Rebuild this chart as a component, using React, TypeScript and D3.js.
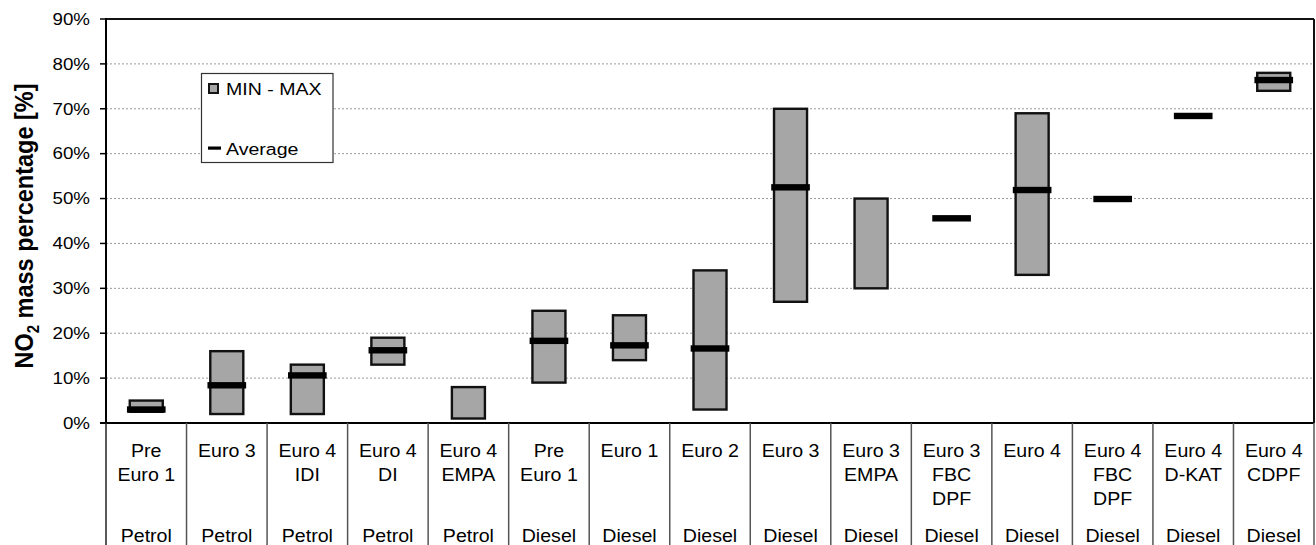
import React from "react";
import * as d3 from "d3";

const stages: string[] = [
  "Pre\nEuro 1", "Euro 3", "Euro 4\nIDI", "Euro 4\nDI", "Euro 4\nEMPA",
  "Pre\nEuro 1", "Euro 1", "Euro 2", "Euro 3", "Euro 3\nEMPA",
  "Euro 3\nFBC\nDPF", "Euro 4", "Euro 4\nFBC\nDPF", "Euro 4\nD-KAT", "Euro 4\nCDPF",
];
const fuels: string[] = [
  "Petrol", "Petrol", "Petrol", "Petrol", "Petrol",
  "Diesel", "Diesel", "Diesel", "Diesel", "Diesel",
  "Diesel", "Diesel", "Diesel", "Diesel", "Diesel",
];
const minValues: (number | null)[] = [2.5, 2, 2, 13, 1, 9, 14, 3, 27, 30, null, 33, null, null, 74];
const maxValues: (number | null)[] = [5, 16, 13, 19, 8, 25, 24, 34, 70, 50, null, 69, null, null, 78];
const avgValues: (number | null)[] = [3, 8.4, 10.6, 16.2, null, 18.3, 17.3, 16.6, 52.5, null, 45.6, 51.9, 49.9, 68.4, 76.4];
const yTicks: number[] = [0, 10, 20, 30, 40, 50, 60, 70, 80, 90];

const FONT = "'Liberation Sans', Arial, sans-serif";

export default function App() {
  const W = 1316, H = 545;
  const left = 106, right = 1314, top = 19, bottom = 423;
  const idx = stages.map((_, i) => String(i));
  const x = d3.scaleBand<string>().domain(idx).range([left, right]).padding(0);
  const y = d3.scaleLinear().domain([0, 90]).range([bottom, top]);
  const bw = x.bandwidth();
  const barW = bw * 0.41;
  const avgW = bw * 0.48;

  const tsx = 1.15;
  const csx = 1.12;

  return (
    <svg width={W} height={H} style={{ position: "absolute", left: 0, top: 0, background: "#fff" }} fontFamily={FONT}>
      {yTicks.filter((t) => t > 0 && t < 90).map((t) => (
        <line key={"g" + t} x1={left} x2={right} y1={y(t)} y2={y(t)} stroke="#9a9a9a" strokeWidth={1} strokeDasharray="2,2" />
      ))}
      {yTicks.map((t) => (
        <g key={"t" + t}>
          <line x1={left - 6} x2={left} y1={y(t)} y2={y(t)} stroke="#000" strokeWidth={1.5} />
          <text transform={`translate(90,${y(t) + 5.8}) scale(${tsx},1)`} fontSize={16.3} textAnchor="end" fill="#000">
            {t + "%"}
          </text>
        </g>
      ))}
      {idx.map((k, i) => {
        const mn = minValues[i], mx = maxValues[i];
        if (mn == null || mx == null) return null;
        const cx = (x(k) as number) + bw / 2;
        return (
          <rect key={"b" + i} x={cx - barW / 2} y={y(mx)} width={barW} height={y(mn) - y(mx)}
            fill="#a6a6a6" stroke="#111" strokeWidth={2.4} />
        );
      })}
      {idx.map((k, i) => {
        const a = avgValues[i];
        if (a == null) return null;
        const cx = (x(k) as number) + bw / 2;
        return <rect key={"a" + i} x={cx - avgW / 2} y={y(a) - 3.2} width={avgW} height={6.4} fill="#000" />;
      })}
      <line x1={left} x2={right} y1={top} y2={top} stroke="#111" strokeWidth={2} />
      <line x1={right} x2={right} y1={top} y2={bottom} stroke="#111" strokeWidth={2} />
      <line x1={left} x2={left} y1={top - 1} y2={bottom} stroke="#000" strokeWidth={2} />
      <line x1={left - 6} x2={right} y1={bottom} y2={bottom} stroke="#000" strokeWidth={2.2} />
      {[...idx.map((k) => x(k) as number), right].map((xv, i) => (
        <line key={"s" + i} x1={xv} x2={xv} y1={bottom} y2={H} stroke={i === 0 ? "#222" : "#555"} strokeWidth={1.5} />
      ))}
      {idx.map((k, i) => {
        const cx = (x(k) as number) + bw / 2;
        const lines = stages[i].split("\n");
        return (
          <g key={"c" + i}>
            {lines.map((ln, j) => (
              <text key={j} transform={`translate(${cx},${457 + j * 23.8}) scale(${csx},1)`} fontSize={17.5} textAnchor="middle" fill="#000">
                {ln}
              </text>
            ))}
            <text transform={`translate(${cx},542) scale(${csx},1)`} fontSize={17.5} textAnchor="middle" fill="#000">
              {fuels[i]}
            </text>
          </g>
        );
      })}
      <text transform={`translate(33,226) rotate(-90) scale(1,1.12)`} fontSize={23.5} fontWeight="bold" textAnchor="middle" fill="#000">
        NO<tspan fontSize={15} dy={5}>2</tspan><tspan dy={-5}> mass percentage [%]</tspan>
      </text>
      <rect x={201.5} y={73.5} width={131.5} height={89} fill="#fff" stroke="#333" strokeWidth={1.2} />
      <rect x={209} y={84} width={9} height={9} fill="#a6a6a6" stroke="#141414" strokeWidth={2} />
      <text transform={`translate(226,95) scale(${tsx},1)`} fontSize={17} fill="#000">MIN - MAX</text>
      <rect x={208} y={146.5} width={13} height={3.2} fill="#000" />
      <text transform={`translate(226,155) scale(${tsx},1)`} fontSize={17} fill="#000">Average</text>
    </svg>
  );
}
